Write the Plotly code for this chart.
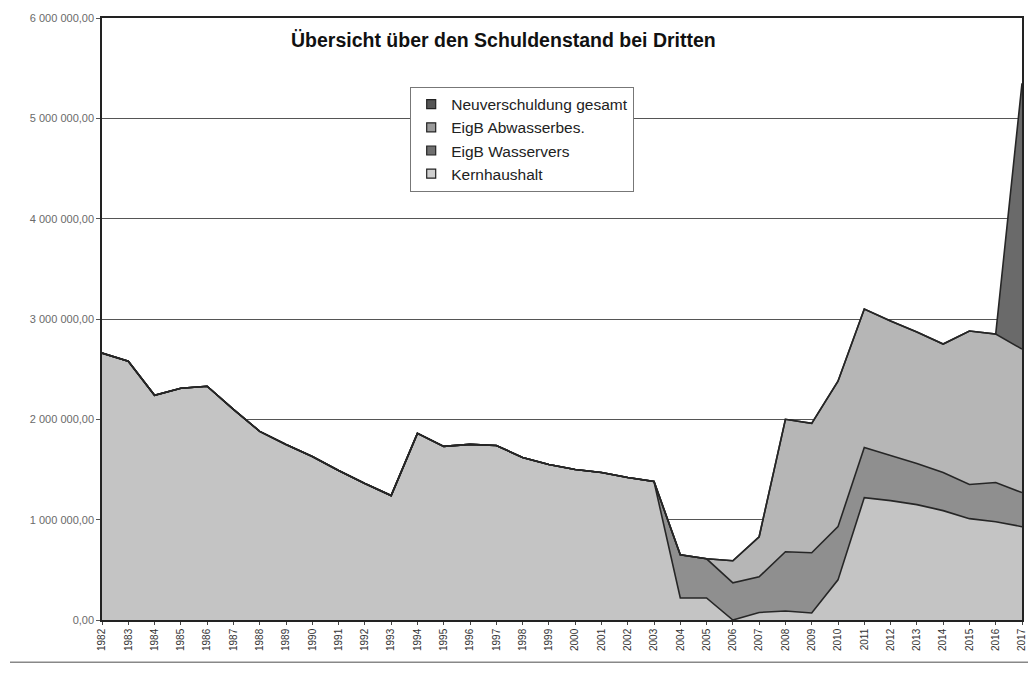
import plotly.graph_objects as go

years = list(range(1982, 2018))

kernhaushalt = [2660000, 2580000, 2240000, 2310000, 2330000, 2100000, 1880000, 1750000,
                1630000, 1490000, 1360000, 1240000, 1860000, 1730000, 1750000, 1740000,
                1620000, 1550000, 1500000, 1470000, 1420000, 1380000,
                220000, 220000, 0, 75000, 90000, 70000, 400000, 1220000, 1190000,
                1150000, 1090000, 1010000, 980000, 930000]
eigb_wasservers = [0] * 22 + [430000, 390000, 370000, 355000, 590000, 600000, 530000,
                              500000, 450000, 410000, 380000, 340000, 390000, 340000]
eigb_abwasserbes = [0] * 22 + [0, 0, 220000, 400000, 1320000, 1290000, 1450000,
                               1380000, 1340000, 1310000, 1280000, 1530000, 1480000, 1430000]
neuverschuldung = [0] * 35 + [2650000]

y_ticks = [0, 1000000, 2000000, 3000000, 4000000, 5000000, 6000000]
y_tick_labels = ["0,00", "1 000 000,00", "2 000 000,00", "3 000 000,00",
                 "4 000 000,00", "5 000 000,00", "6 000 000,00"]

series = [
    ("Kernhaushalt", kernhaushalt, "#c4c4c4", "#cfcfcf", 4),
    ("EigB Wasservers", eigb_wasservers, "#8f8f8f", "#6f6f6f", 3),
    ("EigB Abwasserbes.", eigb_abwasserbes, "#b6b6b6", "#9a9a9a", 2),
    ("Neuverschuldung gesamt", neuverschuldung, "#6a6a6a", "#555555", 1),
]

fig = go.Figure()
for name, vals, col, legcol, rank in series:
    fig.add_trace(go.Scatter(
        x=years, y=vals, name=name, mode="lines", stackgroup="one",
        line=dict(color="#262626", width=1.6), fillcolor=col,
        showlegend=False,
    ))
for name, vals, col, legcol, rank in series:
    fig.add_trace(go.Scatter(
        x=[None], y=[None], name=name, mode="markers",
        marker=dict(symbol="square", size=9, color=legcol,
                    line=dict(color="#222", width=1.2)),
        legendrank=rank,
    ))

font_family = "Arial, Liberation Sans, sans-serif"

fig.update_layout(
    width=1028, height=671,
    margin=dict(l=94, r=14, t=10, b=59, autoexpand=False),
    paper_bgcolor="white", plot_bgcolor="white",
    font=dict(family=font_family, color="#222"),
    showlegend=True,
    legend=dict(
        x=0.335, y=0.886, xanchor="left", yanchor="top",
        traceorder="normal",
        bgcolor="white", bordercolor="#777", borderwidth=1,
        font=dict(size=15.5, color="#222", family=font_family),
        itemwidth=30,
    ),
    annotations=[dict(
        text="<b>Übersicht über den Schuldenstand bei Dritten</b>",
        x=0.436, y=0.963, xref="paper", yref="paper",
        xanchor="center", yanchor="middle",
        showarrow=False, font=dict(size=19.5, color="#111", family=font_family),
    )],
    shapes=[dict(type="line", xref="paper", yref="paper",
                 x0=-0.1, x1=1.02, y0=-0.07, y1=-0.07,
                 line=dict(color="#888", width=1.5))],
)

fig.update_xaxes(
    range=[1982, 2017], tickmode="array", tickvals=years,
    ticktext=[str(y) for y in years], tickangle=-90,
    tickfont=dict(size=10, color="#333"),
    showgrid=False, zeroline=False, automargin=False,
    showline=True, linecolor="#222", linewidth=1.5, mirror=True,
    ticks="outside", ticklen=3, tickcolor="#444",
)
fig.update_yaxes(
    range=[0, 6000000], tickmode="array", tickvals=y_ticks, ticktext=y_tick_labels,
    tickfont=dict(size=11, color="#6a6a6a"),
    showgrid=True, gridcolor="#555", gridwidth=1, zeroline=False, automargin=False,
    showline=True, linecolor="#222", linewidth=1.5, mirror=True,
    ticks="outside", ticklen=4, tickcolor="#555",
)

fig.write_html("out.html")
